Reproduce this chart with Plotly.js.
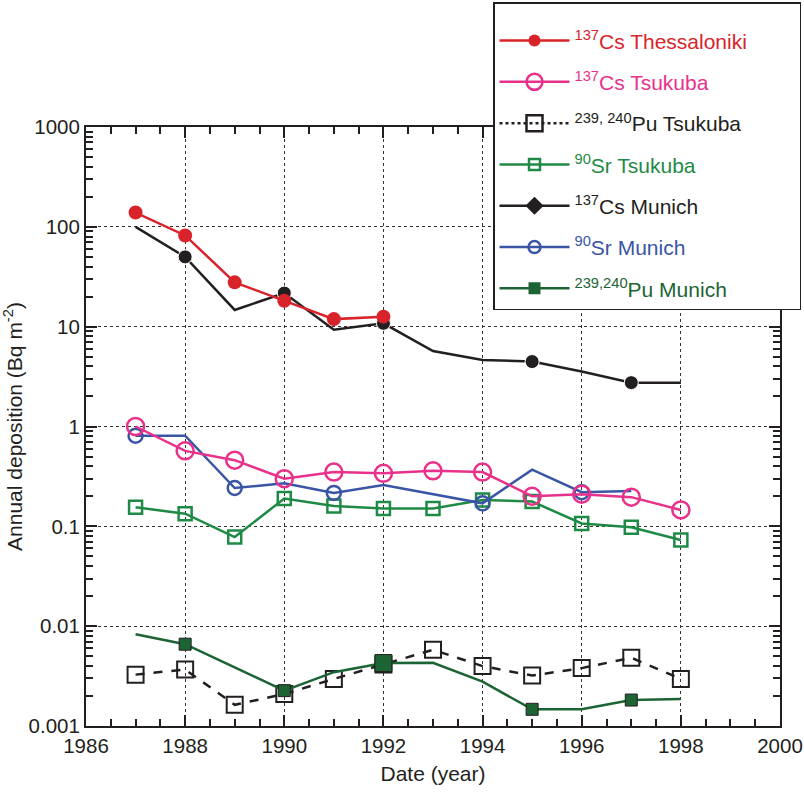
<!DOCTYPE html>
<html>
<head>
<meta charset="utf-8">
<script src="https://cdn.plot.ly/plotly-3.0.1.min.js"></script>
<style>html,body{margin:0;padding:0;background:#fff;}#chart{width:804px;height:793px;}</style>
</head>
<body>
<div id="chart"></div>
<script>
// ---- data ----
const csThessYears = [1987, 1988, 1989, 1990, 1991, 1992];
const csThessVals  = [139, 82, 27.8, 18.2, 11.9, 12.6];

const tsukubaYears   = [1987, 1988, 1989, 1990, 1991, 1992, 1993, 1994, 1995, 1996, 1997, 1998];
const csTsukubaVals  = [1.0, 0.57, 0.46, 0.30, 0.35, 0.34, 0.36, 0.35, 0.20, 0.21, 0.196, 0.146];
const puTsukubaVals  = [0.00327, 0.00368, 0.00163, 0.00209, 0.00296, 0.00413, 0.0058, 0.00398, 0.0032, 0.0038, 0.00483, 0.00296];
const srTsukubaVals  = [0.155, 0.134, 0.078, 0.19, 0.16, 0.151, 0.151, 0.184, 0.177, 0.107, 0.098, 0.073];

const csMunichYears  = [1987, 1988, 1989, 1990, 1991, 1992, 1993, 1994, 1995, 1996, 1997, 1998];
const csMunichVals   = [100, 50, 14.7, 21.7, 9.3, 10.8, 5.7, 4.64, 4.47, 3.55, 2.75, 2.75];
const csMunichMarked = [1988, 1990, 1992, 1995, 1997];

const srMunichYears  = [1987, 1988, 1989, 1990, 1991, 1992, 1994, 1995, 1996, 1997];
const srMunichVals   = [0.81, 0.81, 0.242, 0.27, 0.216, 0.26, 0.17, 0.37, 0.22, 0.226];
const srMunichMarked = [1987, 1989, 1991, 1994, 1996];

const puMunichYears  = [1987, 1988, 1989, 1990, 1991, 1992, 1993, 1994, 1995, 1996, 1997, 1998];
const puMunichVals   = [0.0083, 0.0066, 0.00386, 0.00226, 0.00346, 0.00427, 0.0043, 0.00278, 0.00147, 0.00147, 0.00182, 0.00186];
const puMunichMarked = [1988, 1990, 1992, 1995, 1997];

const legendNames = [
  '<sup>137</sup>Cs Thessaloniki',
  '<sup>137</sup>Cs Tsukuba',
  '<sup>239, 240</sup>Pu Tsukuba',
  '<sup>90</sup>Sr Tsukuba',
  '<sup>137</sup>Cs Munich',
  '<sup>90</sup>Sr Munich',
  '<sup>239,240</sup>Pu Munich'
];

// ---- styles ----
const FONT = 'Liberation Sans, Arial, sans-serif';
const C = {
  red: '#d9232b', pink: '#e8318b', black: '#231f20', green: '#1f8a45',
  blue: '#3a55a5', dgreen: '#1d6434'
};
const sizesFor = (years, marked, s) => years.map(y => marked.includes(y) ? s : 0);

const plotTraces = [
  {x: tsukubaYears, y: puTsukubaVals, mode: 'lines+markers', showlegend: false,
   line: {color: C.black, width: 2.5, dash: 'dash'},
   marker: {symbol: 'square-open', size: 16, color: C.black, opacity: 1, line: {width: 2}}},
  {x: puMunichYears, y: puMunichVals, mode: 'lines+markers', showlegend: false,
   line: {color: C.dgreen, width: 2.5},
   marker: {symbol: 'square', color: C.dgreen, opacity: 1,
            size: puMunichYears.map(y => puMunichMarked.includes(y) ? (y === 1992 ? 17 : 12) : 0),
            line: {width: 1, color: C.black}}},
  {x: tsukubaYears, y: srTsukubaVals, mode: 'lines+markers', showlegend: false,
   line: {color: C.green, width: 2.5},
   marker: {symbol: 'square-open', size: 13, color: C.green, opacity: 1, line: {width: 2.5}}},
  {x: srMunichYears, y: srMunichVals, mode: 'lines+markers', showlegend: false,
   line: {color: C.blue, width: 2.5},
   marker: {symbol: 'circle-open', size: sizesFor(srMunichYears, srMunichMarked, 14), color: C.blue, opacity: 1, line: {width: 2.5}}},
  {x: tsukubaYears, y: csTsukubaVals, mode: 'lines+markers', showlegend: false,
   line: {color: C.pink, width: 2.5},
   marker: {symbol: 'circle-open', size: 17, color: C.pink, opacity: 1, line: {width: 2.5}}},
  {x: csMunichYears, y: csMunichVals, mode: 'lines+markers', showlegend: false,
   line: {color: C.black, width: 2.5},
   marker: {symbol: 'circle', size: sizesFor(csMunichYears, csMunichMarked, 14), color: C.black, opacity: 1}},
  {x: csThessYears, y: csThessVals, mode: 'lines+markers', showlegend: false,
   line: {color: C.red, width: 2.5},
   marker: {symbol: 'circle', size: 14, color: C.red, opacity: 1}}
];

const legendStyles = [
  {color: C.red, dash: 'solid', symbol: 'circle', size: 12, lw: 0},
  {color: C.pink, dash: 'solid', symbol: 'circle-open', size: 16, lw: 2.5},
  {color: C.black, dash: 'dot', symbol: 'square-open', size: 16, lw: 2.5},
  {color: C.green, dash: 'solid', symbol: 'square-open', size: 11, lw: 2.5},
  {color: C.black, dash: 'solid', symbol: 'diamond', size: 14, lw: 0},
  {color: C.blue, dash: 'solid', symbol: 'circle-open', size: 12, lw: 2.5},
  {color: C.dgreen, dash: 'solid', symbol: 'square', size: 12, lw: 0}
];
const PAD = '&nbsp;'.repeat(8);

const legendTraces = legendNames.map((n, i) => ({
  x: [null], y: [null], mode: 'lines+markers',
  name: '<span style="color:' + legendStyles[i].color + '">' + n + '</span>' + (i === 0 ? PAD : ''),
  legendgroup: 'g' + i,
  line: {color: legendStyles[i].color, width: 2.5, dash: legendStyles[i].dash},
  marker: {symbol: legendStyles[i].symbol, size: legendStyles[i].size, color: legendStyles[i].color,
           opacity: 1, line: {width: legendStyles[i].lw, color: legendStyles[i].color}}
}));

const axisCommon = {
  showline: true, linecolor: C.black, linewidth: 2, mirror: 'ticks',
  ticks: 'inside', ticklen: 11, tickwidth: 2, tickcolor: C.black, layer: 'above traces',
  showgrid: true, gridcolor: '#333', gridwidth: 1, griddash: 'dot',
  zeroline: false,
  tickfont: {family: FONT, size: 20.5, color: C.black}
};

const layout = {
  width: 804, height: 793,
  margin: {l: 86, r: 24, t: 127, b: 67, autoexpand: false},
  paper_bgcolor: '#fff', plot_bgcolor: '#fff',
  font: {family: FONT, color: C.black},
  xaxis: Object.assign({}, axisCommon, {
    range: [1986, 2000], dtick: 2, tick0: 1986,
    minor: {dtick: 0.5, ticks: 'inside', ticklen: 7, tickcolor: C.black},
    title: {text: 'Date (year)', font: {size: 21, color: C.black}, standoff: 11}
  }),
  yaxis: Object.assign({}, axisCommon, {
    type: 'log', range: [-3, 3], dtick: 1,
    minor: {ticks: 'inside', ticklen: 7, tickcolor: C.black},
    title: {text: 'Annual deposition (Bq m<sup>-2</sup>)', font: {size: 21, color: C.black}, standoff: 0}
  }),
  legend: {
    x: (493 - 86) / 694, y: (726 - 2) / 599, xanchor: 'left', yanchor: 'top',
    bgcolor: '#fff', bordercolor: C.black, borderwidth: 1.5,
    font: {family: FONT, size: 21, color: C.black},
    title: {text: ' ', font: {size: 13}},
    traceorder: 'grouped', tracegroupgap: 11, itemwidth: 70
  },
  showlegend: true
};

Plotly.newPlot('chart', plotTraces.concat(legendTraces), layout, {displayModeBar: false, staticPlot: true});
</script>
</body>
</html>
